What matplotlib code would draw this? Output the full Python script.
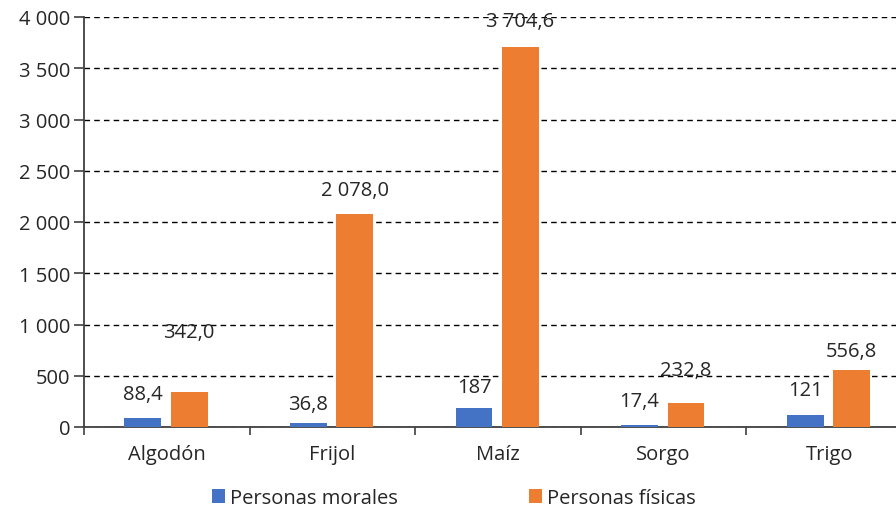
import matplotlib
matplotlib.use("Agg")
import matplotlib.pyplot as plt
import numpy as np
from matplotlib.ticker import FuncFormatter, FixedLocator

plt.rcParams['font.family'] = ['Open Sans', 'DejaVu Sans']

# datos
cultivos = ["Algodón", "Frijol", "Maíz", "Sorgo", "Trigo"]
morales = [88.4, 36.8, 187, 17.4, 121]
fisicas = [342.0, 2078.0, 3704.6, 232.8, 556.8]
etiq_morales = ["88,4", "36,8", "187", "17,4", "121"]
etiq_fisicas = ["342,0", "2 078,0", "3 704,6", "232,8", "556,8"]
series = ["Personas morales", "Personas físicas"]

# desplazamiento vertical de las etiquetas (px)
off_morales = [24, 19, 21, 24, 25]
off_fisicas = [60, 24, 26, 33, 19]

azul = "#4472C4"
naranja = "#ED7D31"
texto = "#262626"
fs = 14.5

fig = plt.figure(figsize=(8.96, 5.10), dpi=100)
ax = fig.add_axes([84/896, 1-428/510, 1-84/896, (428-18)/510])

x = np.arange(len(cultivos))
w = 0.222
b1 = ax.bar(x-0.145, morales, w, color=azul, label=series[0], zorder=3)
b2 = ax.bar(x+0.135, fisicas, w, color=naranja, label=series[1], zorder=3)

for r, t, o in zip(b1, etiq_morales, off_morales):
    ax.annotate(t, (r.get_x()+r.get_width()/2, r.get_height()), xytext=(0, o),
                textcoords="offset pixels", ha="center", va="center", fontsize=fs, color=texto)
for r, t, o in zip(b2, etiq_fisicas, off_fisicas):
    ax.annotate(t, (r.get_x()+r.get_width()/2, r.get_height()), xytext=(0, o),
                textcoords="offset pixels", ha="center", va="center", fontsize=fs, color=texto)

ax.set_ylim(0, 4000)
ax.set_xlim(-0.5, 4.5-16/165.6)
ax.set_yticks(np.arange(0, 4001, 500))
ax.yaxis.set_major_formatter(FuncFormatter(lambda v, p: f"{int(v):,}".replace(",", " ")))
ax.set_xticks(x)
ax.set_xticklabels(cultivos)
ax.xaxis.set_minor_locator(FixedLocator(np.arange(-0.5, 5, 1)))
ax.tick_params(axis="x", which="major", length=0, pad=12, labelsize=fs, labelcolor=texto)
ax.tick_params(axis="x", which="minor", length=6, width=1.2, color="#404040")
ax.tick_params(axis="y", length=7, width=1.2, color="#404040", labelsize=fs, labelcolor=texto, pad=3)

ax.grid(axis="y", linestyle=(0, (4, 3)), color="black", linewidth=1, zorder=0)
for s in ["top", "right"]:
    ax.spines[s].set_visible(False)
ax.spines["left"].set_color("#404040")
ax.spines["bottom"].set_color("#404040")
ax.spines["left"].set_linewidth(1.3)
ax.spines["bottom"].set_linewidth(1.3)

fig.legend(handles=[b1, b2], loc="center", bbox_to_anchor=(454/896, 1-499/510), ncol=2,
           frameon=False, fontsize=fs, handlelength=0.65, handleheight=0.65,
           handletextpad=0.25, columnspacing=6.5, labelcolor=texto)

fig.savefig("out.png", dpi=100)
